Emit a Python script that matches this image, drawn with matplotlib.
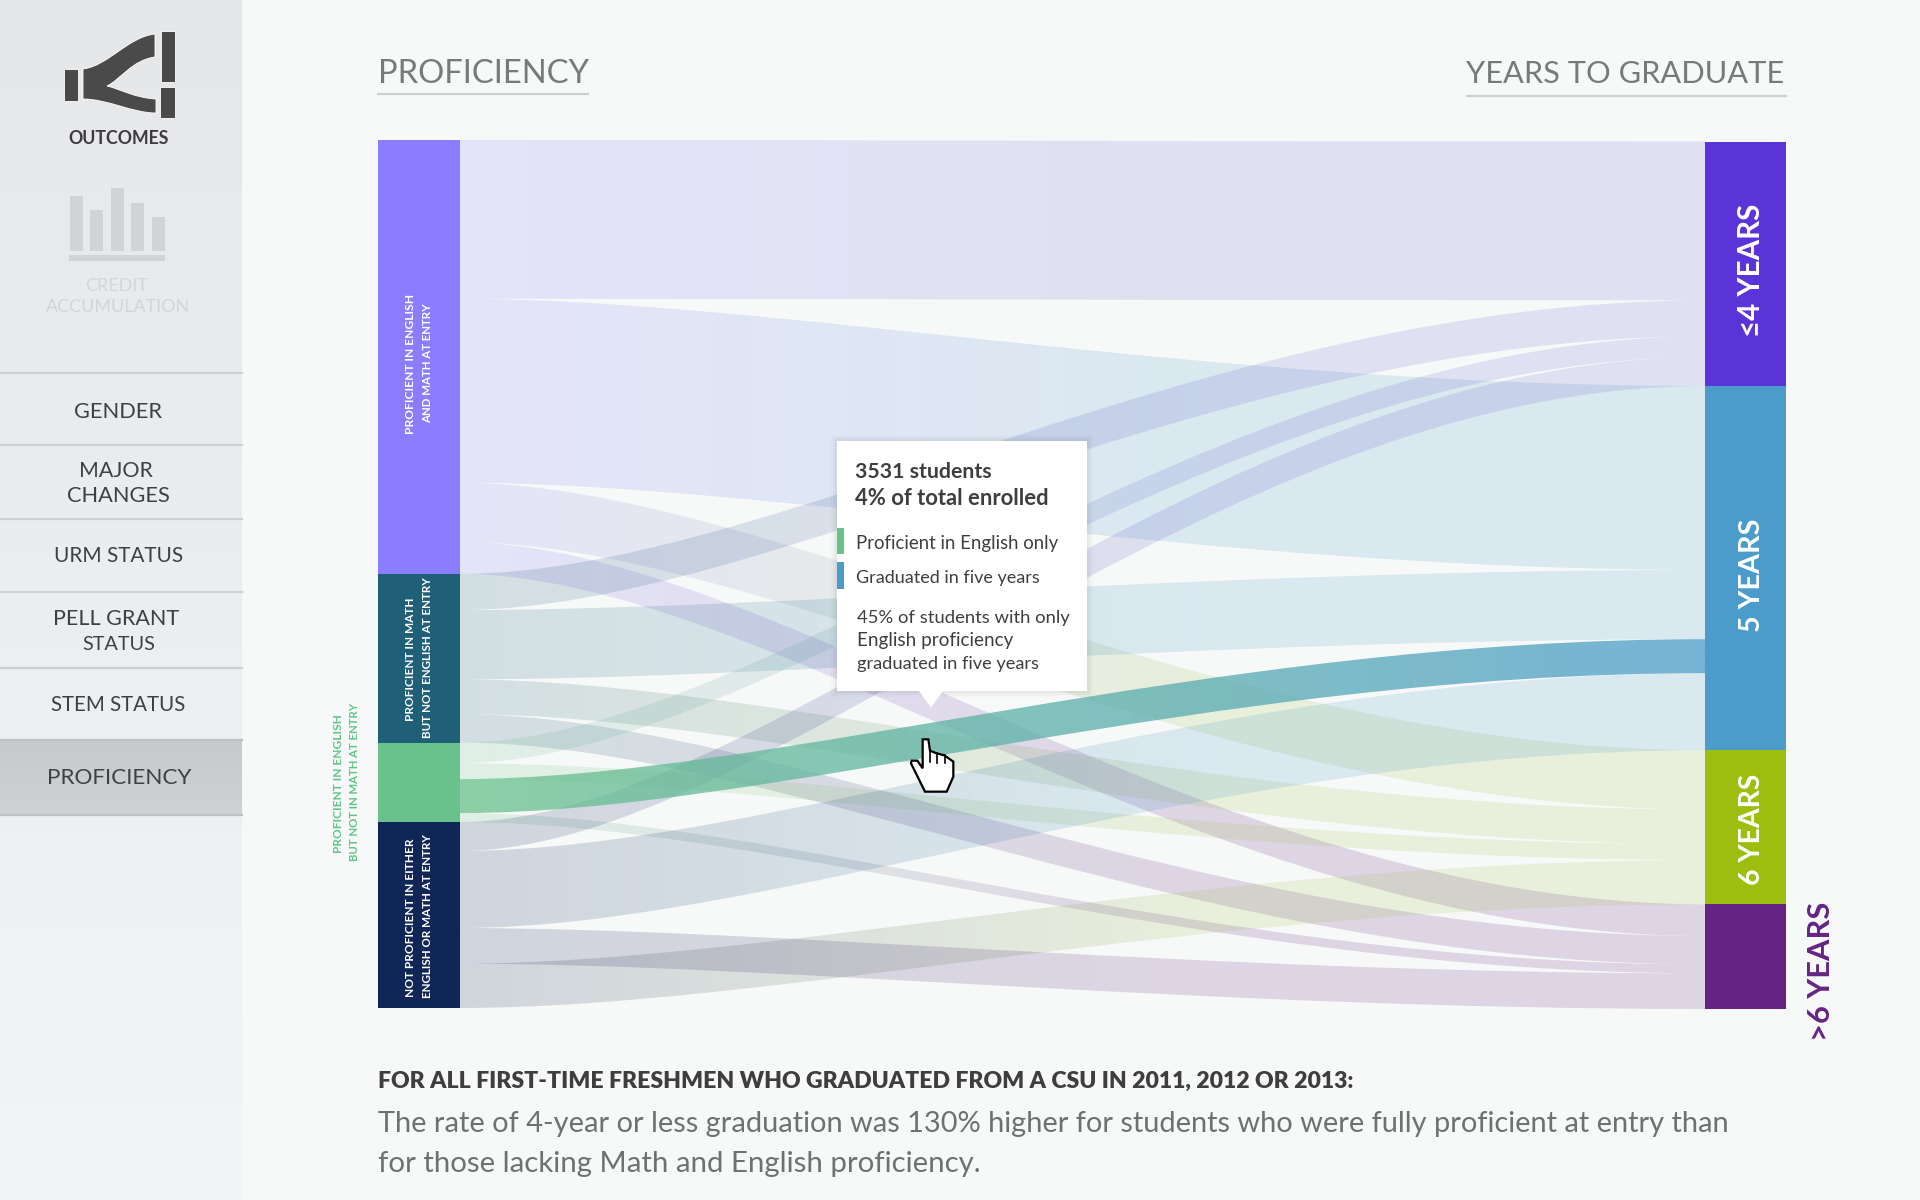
import numpy as np
import matplotlib
matplotlib.use("Agg")
import matplotlib.pyplot as plt
from matplotlib.patches import Rectangle, PathPatch, Polygon
from matplotlib.path import Path
from matplotlib.colors import to_rgb

# ---------- data ----------
SOURCE_LABELS = [["PROFICIENT IN ENGLISH", "AND MATH AT ENTRY"],
                 ["PROFICIENT IN MATH", "BUT NOT ENGLISH AT ENTRY"],
                 ["PROFICIENT IN ENGLISH", "BUT NOT IN MATH AT ENTRY"],
                 ["NOT PROFICIENT IN EITHER", "ENGLISH OR MATH AT ENTRY"]]
TARGET_LABELS = ["≤4 YEARS", "5 YEARS", "6 YEARS", ">6 YEARS"]
SOURCE_COLORS = ["#8A7DFF", "#1F5F78", "#69C18B", "#0F2657"]
TARGET_COLORS = ["#5A33D9", "#4B9CCB", "#9DBD0F", "#642484"]
RIBBON_TARGET_COLORS = ["#6A66D0", "#4B9CCB", "#A0BF50", "#642484"]
# students[source][target]
STUDENTS_P1 = [16500, 19100, 6160, 3300]
STUDENTS_P2 = [3750, 7200, 3600, 2950]
STUDENTS_P3 = [2150, 3531, 1650, 925]
STUDENTS_P4 = [3000, 8000, 4600, 3700]
# stacking order of the outgoing ribbons on each source node
ORDER_P1 = [0, 1, 2, 3]
ORDER_P2 = [0, 1, 2, 3]
ORDER_P3 = [0, 2, 1, 3]
ORDER_P4 = [0, 1, 3, 2]
HIGHLIGHT = (2, 1)
NAV_ITEMS = [(["GENDER"], [(74, 162, 418)]),
             (["MAJOR", "CHANGES"], [(79, 153, 477), (67, 170, 502)]),
             (["URM STATUS"], [(54, 183, 562)]),
             (["PELL GRANT", "STATUS"], [(53, 179, 625), (82, 155, 650)]),
             (["STEM STATUS"], [(51, 185, 711)]),
             (["PROFICIENCY"], [(47, 191, 784)])]

students = [STUDENTS_P1, STUDENTS_P2, STUDENTS_P3, STUDENTS_P4]
orders = [ORDER_P1, ORDER_P2, ORDER_P3, ORDER_P4]

# ---------- canvas ----------
BG = "#F7F9F8"
plt.rcParams["font.family"] = ["Lato", "DejaVu Sans"]
fig = plt.figure(figsize=(19.2, 12), dpi=100, facecolor=BG)
ax = fig.add_axes([0, 0, 1, 1])
ax.set_facecolor(BG)
ax.axis("off")
ax.set_xlim(0, 1920)
ax.set_ylim(1200, 0)
ax.set_autoscale_on(False)
renderer = fig.canvas.get_renderer()


def T(x0, x1, y, s, color="#444444", weight="normal", rot=False, start=20.0):
    """Text whose length is fitted to the span x0..x1 (or a vertical span when rot)."""
    if rot:
        # x0..x1 are the y span (top, bottom), y the baseline x
        t = ax.text(y, x1, s, color=color, weight=weight, rotation=90, ha="left",
                    va="baseline", rotation_mode="anchor", fontsize=start, zorder=30)
    else:
        t = ax.text(x0, y, s, color=color, weight=weight, ha="left", va="baseline",
                    fontsize=start, zorder=30)
    size = start
    for _ in range(3):
        bb = t.get_window_extent(renderer)
        length = bb.height if rot else bb.width
        size = size * abs(x1 - x0) / length
        t.set_fontsize(size)
    return t


# ---------- sidebar ----------
SIDE_W = 242
grad = np.linspace(0, 1, 256)[:, None, None] * (np.array(to_rgb("#F3F4F5")) - np.array(to_rgb("#E6E7E9"))) + np.array(to_rgb("#E6E7E9"))
ax.imshow(grad, extent=(0, SIDE_W, 1200, 0), aspect="auto", zorder=1)
active = np.linspace(0, 1, 64)[:, None, None] * (np.array(to_rgb("#D0D1D3")) - np.array(to_rgb("#C8C9CB"))) + np.array(to_rgb("#C8C9CB"))
ax.imshow(active, extent=(0, SIDE_W, 815, 740), aspect="auto", zorder=2)
for y in [373, 445, 519, 592, 668]:
    ax.plot([0, SIDE_W], [y, y], color="#CFD0D2", lw=1.6, zorder=3)
for y in [740, 815]:
    ax.plot([0, SIDE_W], [y, y], color="#BFC0C2", lw=1.6, zorder=3)
for lines, spans in NAV_ITEMS:
    for s, (a, b, base) in zip(lines, spans):
        T(a, b, base, s, color="#3F4042")

# Sankey icon
ICON = "#4A4A4A"
for x, y, w, h in [(64, 69, 14, 32), (161, 31, 14, 51), (160, 87, 15, 31)]:
    ax.add_patch(Rectangle((x, y), w, h, fc=ICON, ec="white", lw=0.6, zorder=4))
icon_v = [(83, 69), (108, 66), (128, 37), (155, 34), (155, 57), (132, 60), (120, 80), (107, 86),
          (120, 89), (135, 98), (156, 99), (156, 113), (132, 113), (108, 99), (83, 99), (83, 69)]
icon_c = [Path.MOVETO, Path.CURVE4, Path.CURVE4, Path.CURVE4, Path.LINETO, Path.CURVE4, Path.CURVE4,
          Path.CURVE4, Path.CURVE4, Path.CURVE4, Path.CURVE4, Path.LINETO, Path.CURVE4, Path.CURVE4,
          Path.CURVE4, Path.CLOSEPOLY]
ax.add_patch(PathPatch(Path(icon_v, icon_c), fc=ICON, ec="white", lw=0.6, zorder=4))
T(68, 169, 144, "OUTCOMES", color="#3C3C3E", weight="bold")

# Bars icon
GHOST = "#D2D3D5"
for x, top in [(70, 196), (90, 210), (111, 188), (131, 203), (152, 217)]:
    ax.add_patch(Rectangle((x, top), 13, 251 - top, fc=GHOST, ec="none", zorder=4))
ax.add_patch(Rectangle((69, 255), 96, 6, fc=GHOST, ec="none", zorder=4))
T(85, 148, 291, "CREDIT", color="#D4D5D7")
T(46, 190, 312, "ACCUMULATION", color="#D4D5D7")

# ---------- titles ----------
T(378, 589, 83, "PROFICIENCY", color="#77797B")
ax.plot([378, 588], [94, 94], color="#CDCFD0", lw=1.6)
T(1466, 1785, 83, "YEARS TO GRADUATE", color="#77797B")
ax.plot([1467, 1786], [96, 96], color="#CDCFD0", lw=1.6)

# ---------- sankey ----------
LX0, LX1, RX0, RX1 = 378, 459.5, 1705, 1786
L_TOP, L_BOT, R_TOP, R_BOT = 139.8, 1008, 141.5, 1009
total = sum(map(sum, students))
l_scale = (L_BOT - L_TOP) / total
r_scale = (R_BOT - R_TOP) / total

# node extents
src_tot = [sum(r) for r in students]
tgt_tot = [sum(r[j] for r in students) for j in range(4)]
l_edges = L_TOP + np.concatenate([[0], np.cumsum(src_tot)]) * l_scale
r_edges = R_TOP + np.concatenate([[0], np.cumsum(tgt_tot)]) * r_scale

# target side cursors: ribbons stack in source order
r_cursor = list(r_edges[:-1])
ribbons = []
for i in range(4):
    yl = l_edges[i]
    spans = {}
    for j in orders[i]:
        h = students[i][j] * l_scale
        spans[j] = (yl, yl + h)
        yl += h
    for j in range(4):
        h = students[i][j] * r_scale
        ribbons.append((i, j, spans[j], (r_cursor[j], r_cursor[j] + h)))
        r_cursor[j] += h


def draw_ribbon(i, j, ls, rs, alpha, z, colors, reach):
    w = RX0 - LX1
    xa, xb = LX1 + 0.25 * w, LX1 + 0.6 * w
    verts = [(LX1, ls[0]), (xa, ls[0]), (xb, rs[0]), (RX0, rs[0]), (RX0, rs[1]),
             (xb, rs[1]), (xa, ls[1]), (LX1, ls[1]), (LX1, ls[0])]
    codes = [Path.MOVETO, Path.CURVE4, Path.CURVE4, Path.CURVE4, Path.LINETO,
             Path.CURVE4, Path.CURVE4, Path.CURVE4, Path.CLOSEPOLY]
    patch = PathPatch(Path(verts, codes), fc="none", ec="none", transform=ax.transData)
    ax.add_patch(patch)
    c0, c1 = np.array(to_rgb(SOURCE_COLORS[i])), np.array(to_rgb(colors[j]))
    t = np.clip(np.linspace(0, 1, 256) / reach, 0, 1)[None, :, None]
    rgba = np.concatenate([c0 * (1 - t) + c1 * t, np.full((1, 256, 1), alpha)], axis=2)
    im = ax.imshow(rgba, extent=(LX1, RX0, 1100, 100), aspect="auto",
                   interpolation="bilinear", zorder=z)
    im.set_clip_path(patch)


for i, j, ls, rs in ribbons:
    if (i, j) == HIGHLIGHT:
        draw_ribbon(i, j, ls, rs, 0.75, 7, TARGET_COLORS, 1.0)
    else:
        draw_ribbon(i, j, ls, rs, 0.17, 6, RIBBON_TARGET_COLORS, 0.6)

for i in range(4):
    ax.add_patch(Rectangle((LX0, l_edges[i]), LX1 - LX0, l_edges[i + 1] - l_edges[i],
                           fc=SOURCE_COLORS[i], ec="none", zorder=8))
for j in range(4):
    ax.add_patch(Rectangle((RX0, r_edges[j]), RX1 - RX0, r_edges[j + 1] - r_edges[j],
                           fc=TARGET_COLORS[j], ec="none", zorder=8))

# node labels
WHITE = "white"
T(294, 434, 413.5, SOURCE_LABELS[0][0], color=WHITE, weight="bold", rot=True)
T(304, 423, 431, SOURCE_LABELS[0][1], color=WHITE, weight="bold", rot=True)
T(600, 721, 413.5, SOURCE_LABELS[1][0], color=WHITE, weight="bold", rot=True)
T(579, 738, 431, SOURCE_LABELS[1][1], color=WHITE, weight="bold", rot=True)
T(838, 997, 413.5, SOURCE_LABELS[3][0], color=WHITE, weight="bold", rot=True)
T(834, 998, 431, SOURCE_LABELS[3][1], color=WHITE, weight="bold", rot=True)
T(714, 853, 342, SOURCE_LABELS[2][0], color="#5FC586", weight="bold", rot=True)
T(703, 861, 358, SOURCE_LABELS[2][1], color="#5FC586", weight="bold", rot=True)
T(203.5, 337, 1760, TARGET_LABELS[0], color=WHITE, weight="bold", rot=True)
T(519, 632, 1760, TARGET_LABELS[1], color=WHITE, weight="bold", rot=True)
T(773, 885, 1760, TARGET_LABELS[2], color=WHITE, weight="bold", rot=True)
T(902, 1041, 1829.5, TARGET_LABELS[3], color="#642484", weight="bold", rot=True)

# ---------- tooltip ----------
for d, a in [(6, 0.015), (4, 0.02), (2, 0.03)]:
    ax.add_patch(Rectangle((836.5 - d, 441 - d), 250.5 + 2 * d, 250 + 2 * d, fc="black",
                           ec="none", alpha=a, zorder=19))
ax.add_patch(Rectangle((836.5, 441), 250.5, 250, fc="white", ec="none", zorder=20))
ax.add_patch(Polygon([(919, 691), (943, 691), (931, 707.5)], closed=True, fc="white", ec="none", zorder=20))
ax.add_patch(Rectangle((836.5, 528), 7.5, 26, fc=SOURCE_COLORS[2], ec="none", zorder=21))
ax.add_patch(Rectangle((836.5, 562), 7.5, 27, fc=TARGET_COLORS[1], ec="none", zorder=21))
DARK = "#3E3E40"
T(855, 992, 478, "3531 students", color=DARK, weight="bold")
T(855, 1048, 505, "4% of total enrolled", color=DARK, weight="bold")
T(856, 1058, 548.5, "Proficient in English only", color=DARK)
T(856, 1041, 583.5, "Graduated in five years", color=DARK)
T(857, 1069, 623, "45% of students with only", color=DARK)
T(857, 1012, 646, "English proficiency", color=DARK)
T(857, 1040, 668.5, "graduated in five years", color=DARK)

# cursor
hand = [(68, 28), (85, 28), (90, 62), (110, 70), (133, 76), (160, 95), (160, 140), (140, 185),
        (75, 185), (33, 100), (35, 92), (52, 92), (68, 115)]
ax.add_patch(Polygon([(900 + x / 3, 730 + y / 3) for x, y in hand], closed=True, fc="white",
                     ec="black", lw=1.6, zorder=25))
for fx, fy0, fy1 in [(90, 62, 95), (111, 70, 98), (134, 76, 100)]:
    ax.plot([900 + fx / 3] * 2, [730 + fy0 / 3, 730 + fy1 / 3], color="black", lw=1.2, zorder=26)

# ---------- footer ----------
T(378, 1353, 1088, "FOR ALL FIRST-TIME FRESHMEN WHO GRADUATED FROM A CSU IN 2011, 2012 OR 2013:",
  color="#3E3E40", weight="heavy")
T(378, 1735, 1132, "The rate of 4-year or less graduation was 130% higher for students who were fully proficient at entry than",
  color="#6E7072")
T(378, 980, 1172, "for those lacking Math and English proficiency.", color="#6E7072")

fig.savefig("out.png", dpi=100, facecolor=BG)
